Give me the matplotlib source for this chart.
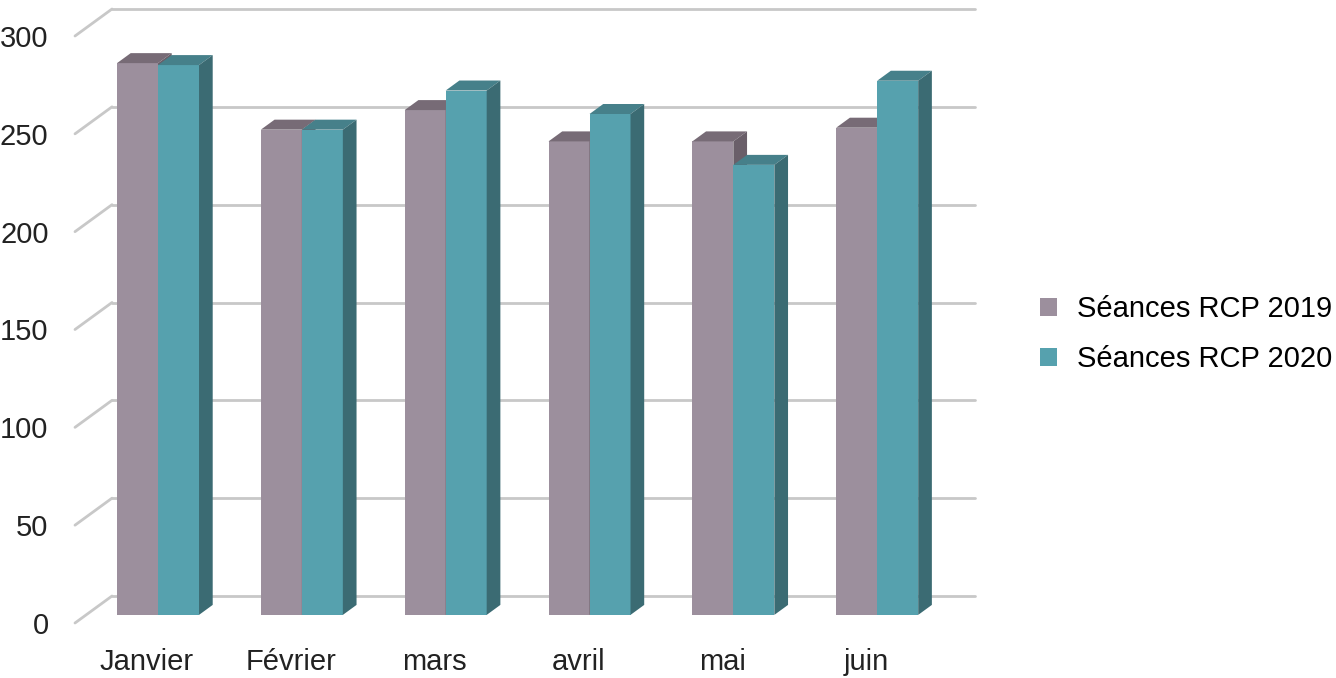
import numpy as np
import matplotlib.pyplot as plt
from matplotlib.patches import Polygon, Patch

plt.rcParams['font.family'] = ['Liberation Sans', 'DejaVu Sans']

months = ['Janvier', 'Février', 'mars', 'avril', 'mai', 'juin']
s2019 = [282, 248, 258, 242, 242, 249]
s2020 = [281, 248, 268, 256, 230, 273]
yticks = [0, 50, 100, 150, 200, 250, 300]
labels = ['Séances RCP 2019', 'Séances RCP 2020']

# colours: front, top, side
c19 = ('#9c8f9d', '#776b76', '#6a5f69')
c20 = ('#56a1ae', '#46808a', '#3b6b73')

W, H = 1336, 678
fig = plt.figure(figsize=(W / 100, H / 100), dpi=100)
ax = fig.add_axes([75 / W, (H - 623) / H, 863 / W, 587 / H])
ax.set_xlim(-0.5, 5.5)
ax.set_ylim(0, 300)

# full depth of the floor in data units
ddx = 37 / 143.8
ddy = 27 / 1.957
f0, f1 = 0.30, 0.67   # bar depth range (fraction of full depth)
bw = 0.285

# back wall + left wall gridlines
for g in yticks:
    ax.plot([-0.5 + ddx, 5.5 + ddx], [g + ddy, g + ddy], color='#c8c8c8', lw=2.0,
            clip_on=False, zorder=1, solid_capstyle='round')
    ax.plot([-0.5, -0.5 + ddx], [g, g + ddy], color='#c8c8c8', lw=2.0,
            clip_on=False, zorder=1, solid_capstyle='round')

def bar3d(x0, v, cols, z):
    ox, oy = f0 * ddx, f0 * ddy
    bx, by = (f1 - f0) * ddx, (f1 - f0) * ddy
    x0 = x0 + ox
    x1 = x0 + bw
    front = Polygon([(x0, oy), (x1, oy), (x1, v + oy), (x0, v + oy)],
                    closed=True, fc=cols[0], ec='none', clip_on=False, zorder=z)
    top = Polygon([(x0, v + oy), (x1, v + oy), (x1 + bx, v + oy + by), (x0 + bx, v + oy + by)],
                  closed=True, fc=cols[1], ec='none', clip_on=False, zorder=z)
    side = Polygon([(x1, oy), (x1 + bx, oy + by), (x1 + bx, v + oy + by), (x1, v + oy)],
                   closed=True, fc=cols[2], ec='none', clip_on=False, zorder=z)
    for p in (front, top, side):
        ax.add_patch(p)

z = 2
for i in range(len(months)):
    bar3d(i - bw, s2019[i], c19, z)
    z += 1
    bar3d(i, s2020[i], c20, z)
    z += 1

ax.set_xticks(range(len(months)))
ax.set_xticklabels(months, fontsize=21, color='#222222')
ax.set_yticks(yticks)
ax.set_yticklabels([str(t) for t in yticks], fontsize=21, color='#222222')
ax.tick_params(length=0)
ax.tick_params(axis='x', pad=18)
ax.tick_params(axis='y', pad=19)
for s in ax.spines.values():
    s.set_visible(False)
ax.patch.set_alpha(0)

handles = [Patch(fc=c19[0], ec='none'), Patch(fc=c20[0], ec='none')]
fig.legend(handles, labels, loc='center left', bbox_to_anchor=(1040 / W, 1 - 334 / H),
           frameon=False, fontsize=21, handlelength=0.58, handleheight=0.58,
           handletextpad=0.69, labelspacing=0.75, borderpad=0, borderaxespad=0)

fig.savefig('out.png', dpi=100)
